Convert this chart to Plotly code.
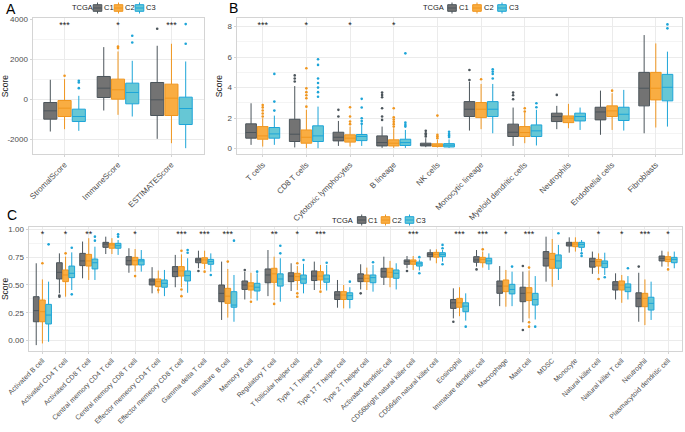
import plotly.graph_objects as go

# ---------------- data ----------------
GROUPS = ["C1", "C2", "C3"]

A_cats = ["StromalScore", "ImmuneScore", "ESTIMATEScore"]
A_sig = ["***", "*", "***"]
# (lower whisker, q1, median, q3, upper whisker)
A_C1 = [(-1617, -1000, -583, -167, 967), (-567, 83, 550, 1133, 2600), (-1983, -817, -33, 833, 2667)]
A_C2 = [(-1500, -867, -450, -67, 1000), (-783, 0, 467, 1000, 2383), (-2200, -817, 50, 750, 2767)]
A_C3 = [(-1583, -1117, -867, -500, 167), (-867, -233, 333, 800, 1917), (-2450, -1267, -467, 100, 1883)]
A_C1_out = [[], [], [3517]]
A_C2_out = [[1167], [2633, 2550], []]
A_C3_out = [[917, 833, 550], [3167, 2833], [3750, 2767]]

B_cats = ["T cells", "CD8 T cells", "Cytotoxic lymphocytes", "B lineage", "NK cells",
          "Monocytic lineage", "Myeloid dendritic cells", "Neutrophils", "Endothelial cells", "Fibroblasts"]
B_sig = ["***", "*", "*", "*", "", "", "", "", "", ""]
B_C1 = [(0.24, 0.68, 1.05, 1.62, 2.97), (0.07, 0.46, 0.94, 1.92, 4.1), (0.17, 0.5, 0.74, 1.07, 1.81),
        (0.04, 0.17, 0.39, 0.83, 1.44), (0.09, 0.17, 0.24, 0.35, 0.68), (1.18, 2.1, 2.58, 3.08, 4.39),
        (0.17, 0.79, 1.07, 1.6, 2.69), (1.27, 1.77, 2.1, 2.32, 2.8), (0.9, 1.88, 2.4, 2.71, 3.8),
        (1.0, 2.8, 3.96, 5.0, 7.45)]
B_C2 = [(0.13, 0.61, 0.83, 1.44, 1.99), (0.02, 0.35, 0.74, 1.22, 2.54), (0.13, 0.42, 0.68, 0.9, 1.44),
        (0.04, 0.17, 0.35, 0.57, 1.33), (0.07, 0.13, 0.22, 0.31, 0.57), (1.27, 2.03, 2.58, 3.02, 4.24),
        (0.35, 0.79, 1.05, 1.44, 2.36), (1.33, 1.7, 1.99, 2.14, 2.93), (1.22, 2.1, 2.47, 2.8, 3.63),
        (1.38, 3.19, 3.96, 5.0, 6.9)]
B_C3 = [(0.24, 0.68, 0.96, 1.38, 2.16), (0.02, 0.46, 0.83, 1.49, 2.75), (0.17, 0.52, 0.79, 0.92, 1.55),
        (0.04, 0.2, 0.39, 0.61, 1.22), (0.04, 0.1, 0.22, 0.32, 0.6), (1.0, 2.1, 2.58, 3.08, 4.24),
        (0.2, 0.79, 1.16, 1.55, 2.54), (1.22, 1.81, 2.1, 2.32, 2.69), (1.18, 1.84, 2.25, 2.71, 3.85),
        (1.44, 3.13, 4.02, 4.87, 6.36)]
B_C1_out = [[], [4.4, 4.6, 4.8], [2.1, 2.54], [1.88, 2.1, 2.64, 3.37, 3.52, 3.67], [0.79, 0.9, 1.0, 1.16],
            [4.5, 5.16], [3.23, 3.5, 3.67], [3.52], [], []]
B_C2_out = [[2.1, 2.3, 2.5, 2.7, 2.86], [2.75, 3.3, 3.5, 3.7, 3.95, 5.27], [1.6, 1.77, 2.1, 2.71],
            [1.44, 1.6, 1.75, 1.9, 2.05, 2.64], [0.68, 0.8, 0.9, 2.16], [4.55], [2.43, 2.64], [], [3.8], []]
B_C3_out = [[2.49, 3.08, 4.9], [3.4, 3.7, 4.0, 4.3, 4.6, 5.49, 5.86], [1.62, 1.8, 1.99, 2.69, 3.26],
            [1.44, 1.55, 1.7, 6.25], [0.75, 0.85, 0.95, 1.1], [4.6, 4.9, 5.05, 5.2], [2.71, 2.97], [], [],
            [7.89, 8.15]]

C_cats = ["Activated B cell", "Activated CD4 T cell", "Activated CD8 T cell", "Central memory CD4 T cell",
          "Central memory CD8 T cell", "Effector memeory CD4 T cell", "Effector memeory CD8 T cell",
          "Gamma delta T cell", "Immature  B cell", "Memory B cell", "Regulatory T cell",
          "T follicular helper cell", "Type 1 T helper cell", "Type 17 T helper cell", "Type 2 T helper cell",
          "Activated dendritic cell", "CD56bright natural killer cell", "CD56dim natural killer cell",
          "Eosinophil", "Immature dendritic cell", "Macrophage", "Mast cell", "MDSC", "Monocyte",
          "Natural killer cell", "Natural killer T cell", "Neutrophil", "Plasmacytoid dendritic cell"]
C_sig = ["*", "*", "**", "", "*", "", "***", "***", "***", "", "**", "*", "***", "", "", "", "***", "",
         "***", "***", "*", "***", "", "", "*", "*", "***", "*"]
C_C1 = [(-0.04, 0.17, 0.27, 0.395, 0.695), (0.425, 0.554, 0.614, 0.70, 0.784), (0.56, 0.674, 0.716, 0.784, 0.89),
        (0.778, 0.838, 0.868, 0.883, 0.934), (0.61, 0.68, 0.718, 0.754, 0.83), (0.425, 0.5, 0.536, 0.554, 0.66),
        (0.48, 0.575, 0.62, 0.665, 0.77), (0.65, 0.7, 0.725, 0.74, 0.808), (0.186, 0.35, 0.425, 0.5, 0.71),
        (0.37, 0.46, 0.5, 0.536, 0.62), (0.4, 0.52, 0.59, 0.644, 0.814), (0.446, 0.53, 0.58, 0.61, 0.695),
        (0.455, 0.54, 0.58, 0.626, 0.71), (0.296, 0.37, 0.41, 0.44, 0.545), (0.46, 0.53, 0.56, 0.6, 0.686),
        (0.5, 0.57, 0.62, 0.65, 0.754), (0.65, 0.686, 0.71, 0.725, 0.76), (0.72, 0.754, 0.775, 0.79, 0.82),
        (0.2, 0.29, 0.34, 0.37, 0.47), (0.665, 0.704, 0.725, 0.754, 0.814), (0.31, 0.425, 0.49, 0.536, 0.67),
        (0.165, 0.35, 0.425, 0.48, 0.62), (0.53, 0.67, 0.74, 0.8, 0.934), (0.79, 0.85, 0.868, 0.883, 0.928),
        (0.6, 0.66, 0.71, 0.74, 0.8), (0.37, 0.455, 0.5, 0.53, 0.605), (0.17, 0.305, 0.38, 0.43, 0.61),
        (0.665, 0.716, 0.74, 0.76, 0.808)]
C_C2 = [(-0.025, 0.17, 0.26, 0.365, 0.55), (0.395, 0.53, 0.59, 0.635, 0.754), (0.545, 0.67, 0.716, 0.775, 0.92),
        (0.778, 0.83, 0.86, 0.874, 0.92), (0.62, 0.68, 0.718, 0.748, 0.823), (0.425, 0.485, 0.53, 0.554, 0.63),
        (0.48, 0.58, 0.626, 0.665, 0.775), (0.644, 0.695, 0.725, 0.745, 0.808), (0.207, 0.335, 0.4, 0.47, 0.644),
        (0.377, 0.455, 0.49, 0.52, 0.61), (0.365, 0.524, 0.6, 0.65, 0.754), (0.455, 0.54, 0.575, 0.605, 0.67),
        (0.46, 0.545, 0.58, 0.62, 0.68), (0.29, 0.37, 0.41, 0.44, 0.5), (0.455, 0.53, 0.56, 0.59, 0.656),
        (0.48, 0.57, 0.614, 0.65, 0.716), (0.635, 0.686, 0.71, 0.725, 0.76), (0.695, 0.75, 0.775, 0.793, 0.82),
        (0.22, 0.3, 0.34, 0.38, 0.48), (0.656, 0.7, 0.73, 0.748, 0.8), (0.305, 0.44, 0.49, 0.545, 0.635),
        (0.2, 0.36, 0.43, 0.476, 0.63), (0.485, 0.65, 0.73, 0.784, 0.913), (0.8, 0.844, 0.868, 0.883, 0.928),
        (0.6, 0.67, 0.71, 0.73, 0.784), (0.34, 0.455, 0.5, 0.536, 0.59), (0.14, 0.305, 0.38, 0.425, 0.55),
        (0.665, 0.71, 0.73, 0.754, 0.8)]
C_C3 = [(-0.01, 0.15, 0.23, 0.326, 0.53), (0.455, 0.566, 0.605, 0.67, 0.793), (0.545, 0.644, 0.7, 0.733, 0.844),
        (0.77, 0.83, 0.853, 0.874, 0.904), (0.62, 0.68, 0.716, 0.73, 0.814), (0.4, 0.48, 0.515, 0.545, 0.635),
        (0.43, 0.536, 0.584, 0.626, 0.74), (0.62, 0.686, 0.71, 0.73, 0.784), (0.17, 0.3, 0.32, 0.44, 0.59),
        (0.36, 0.446, 0.48, 0.515, 0.605), (0.35, 0.49, 0.554, 0.6, 0.74), (0.425, 0.515, 0.554, 0.59, 0.69),
        (0.45, 0.524, 0.554, 0.59, 0.68), (0.29, 0.37, 0.404, 0.43, 0.48), (0.44, 0.52, 0.566, 0.59, 0.68),
        (0.46, 0.56, 0.605, 0.635, 0.695), (0.63, 0.67, 0.69, 0.706, 0.73), (0.71, 0.754, 0.775, 0.79, 0.814),
        (0.18, 0.26, 0.31, 0.34, 0.425), (0.635, 0.69, 0.716, 0.74, 0.784), (0.31, 0.42, 0.46, 0.506, 0.62),
        (0.19, 0.32, 0.37, 0.425, 0.58), (0.545, 0.65, 0.716, 0.77, 0.86), (0.8, 0.838, 0.865, 0.883, 0.904),
        (0.59, 0.656, 0.695, 0.716, 0.79), (0.37, 0.44, 0.48, 0.51, 0.58), (0.186, 0.275, 0.335, 0.39, 0.53),
        (0.65, 0.7, 0.73, 0.748, 0.8)]
C_C1_out = [[], [0.395, 0.405], [], [], [], [], [], [0.626], [], [0.635], [], [], [], [], [0.425], [], [0.626],
            [], [0.17], [0.64], [], [0.096, 0.67], [], [], [], [], [0.665], []]
C_C2_out = [[0.695], [0.784], [], [], [0.58], [0.455], [0.4, 0.46, 0.808], [0.62], [0.71], [0.35], [0.33],
            [0.395, 0.425, 0.695], [0.44], [], [], [], [], [], [], [0.82], [], [0.126, 0.165, 0.656], [], [],
            [0.554], [], [], [0.64]]
C_C3_out = [[0.865], [0.416, 0.835], [0.898, 0.934], [0.934, 0.955], [], [], [0.79, 0.814], [0.59], [0.898],
            [0.62], [0.784, 0.853], [0.725], [0.7], [0.53], [0.704], [], [0.605, 0.75], [0.686, 0.83, 0.86],
            [0.126], [], [0.665], [0.126], [0.964], [0.76, 0.784], [0.57], [0.65], [], []]

LEGEND_TITLE = "TCGA"

# ---------------- style ----------------
LINE = {"C1": "#4c555b", "C2": "#f0961f", "C3": "#1da5d8"}
FILL = {"C1": "#737373", "C2": "#f9ad42", "C3": "#66c7d5"}
FONT = "Liberation Sans, Arial, sans-serif"
TXT = "#4d4d4d"
W, H = 685, 432


def px_x(v):
    return v / W


def px_y(v):
    return 1 - v / H


fig = go.Figure()

panels = [
    ("A", "x", "y", A_cats, [A_C1, A_C2, A_C3], [A_C1_out, A_C2_out, A_C3_out], A_sig, 3680),
    ("B", "x2", "y2", B_cats, [B_C1, B_C2, B_C3], [B_C1_out, B_C2_out, B_C3_out], B_sig, 8.065),
    ("C", "x3", "y3", C_cats, [C_C1, C_C2, C_C3], [C_C1_out, C_C2_out, C_C3_out], C_sig, 0.952),
]

for pid, xa, ya, cats, stats_list, outs_list, sig, sig_y in panels:
    for g, stats, outs in zip(GROUPS, stats_list, outs_list):
        fig.add_trace(go.Box(
            x=cats, y=[o if o else [None] for o in outs],
            lowerfence=[s[0] for s in stats], q1=[s[1] for s in stats], median=[s[2] for s in stats],
            q3=[s[3] for s in stats], upperfence=[s[4] for s in stats],
            boxpoints="all", jitter=0, pointpos=0,
            name=g, showlegend=False, xaxis=xa, yaxis=ya,
            alignmentgroup=pid, offsetgroup=g,
            line=dict(color=LINE[g], width=1), fillcolor=FILL[g],
            marker=dict(color=LINE[g], size=2.6, line=dict(width=0)),
            whiskerwidth=0, hoverinfo="skip",
        ))
    fig.add_trace(go.Scatter(
        x=cats, y=[sig_y] * len(cats), text=sig, mode="text",
        textfont=dict(size=9, color="#222222", family=FONT),
        xaxis=xa, yaxis=ya, showlegend=False, hoverinfo="skip",
    ))


def xax(domain, anchor, rng, size=8):
    return dict(domain=domain, anchor=anchor, type="category", range=rng, automargin=False,
                showgrid=True, gridcolor="#ebebeb", gridwidth=1,
                showline=True, mirror=True, linecolor="#d4d4d4", linewidth=1,
                ticks="outside", ticklen=2, tickcolor="#d4d4d4",
                tickangle=-45, tickfont=dict(size=size, color=TXT, family=FONT), zeroline=False)


def yax(domain, anchor, rng, tickvals, ticktext, minor_dtick):
    return dict(domain=domain, anchor=anchor, range=rng, tickvals=tickvals, ticktext=ticktext,
                automargin=False,
                showgrid=True, gridcolor="#ebebeb", gridwidth=1,
                minor=dict(showgrid=True, gridcolor="#f4f4f4", dtick=minor_dtick, tick0=0),
                showline=True, mirror=True, linecolor="#d4d4d4", linewidth=1,
                ticks="outside", ticklen=2, tickcolor="#d4d4d4",
                tickfont=dict(size=8, color=TXT, family=FONT), zeroline=False,
                title=dict(text="Score", font=dict(size=8.5, color="#222222", family=FONT), standoff=3))


def dx(a, b):
    return [a / W, b / W]


def dy(top, bottom):
    return [1 - bottom / H, 1 - top / H]


annotations = []
shapes = []

# panel letters
for letter, lx, ly in [("A", 11, 8.5), ("B", 233, 8), ("C", 12, 215)]:
    annotations.append(dict(text=letter, x=px_x(lx), y=px_y(ly), xref="paper", yref="paper",
                            xanchor="center", yanchor="middle", showarrow=False,
                            font=dict(size=14, color="#000000", family=FONT)))

# compact legends (title + box keys), one per panel
legend_specs = [(70, 8, [97.5, 118.5, 139.5]), (421, 8, [452, 477, 502]), (330, 220, [361.7, 385.5, 409.5])]
for tx, cy, centers in legend_specs:
    annotations.append(dict(text=LEGEND_TITLE, x=px_x(tx), y=px_y(cy), xref="paper", yref="paper",
                            xanchor="left", yanchor="middle", showarrow=False,
                            font=dict(size=7.5, color="#222222", family=FONT)))
    for g, cx in zip(GROUPS, centers):
        shapes.append(dict(type="line", xref="paper", yref="paper",
                           x0=px_x(cx), x1=px_x(cx), y0=px_y(cy - 5.5), y1=px_y(cy + 5.5),
                           line=dict(color=LINE[g], width=1)))
        shapes.append(dict(type="rect", xref="paper", yref="paper",
                           x0=px_x(cx - 4.3), x1=px_x(cx + 4.3), y0=px_y(cy - 3.3), y1=px_y(cy + 3.3),
                           fillcolor=FILL[g], line=dict(color=LINE[g], width=1)))
        shapes.append(dict(type="line", xref="paper", yref="paper",
                           x0=px_x(cx - 4.3), x1=px_x(cx + 4.3), y0=px_y(cy), y1=px_y(cy),
                           line=dict(color=LINE[g], width=1)))
        annotations.append(dict(text=g, x=px_x(cx + 4.6), y=px_y(cy), xref="paper", yref="paper",
                                xanchor="left", yanchor="middle", showarrow=False,
                                font=dict(size=7.5, color="#222222", family=FONT)))

fig.update_layout(
    template="none",
    width=W, height=H, autosize=False,
    margin=dict(l=0, r=0, t=0, b=0, pad=0),
    paper_bgcolor="white", plot_bgcolor="white",
    font=dict(family=FONT, color=TXT),
    boxmode="group", boxgap=0.2, boxgroupgap=0.08,
    showlegend=False,
    hovermode=False,
    xaxis=xax(dx(32.5, 203.5), "y", [-0.6, 2.6]),
    yaxis=yax(dy(18.3, 154), "x", [-2740, 4040], [-2000, 0, 2000, 4000], ["-2000", "0", "2000", "4000"], 1000),
    xaxis2=xax(dx(236.5, 682), "y2", [-0.6, 9.6]),
    yaxis2=yax(dy(18.3, 154), "x2", [-0.36, 8.55], [0, 2, 4, 6, 8], ["0", "2", "4", "6", "8"], 1),
    xaxis3=xax(dx(28.5, 682), "y3", [-0.6, 27.6], size=7),
    yaxis3=yax(dy(227.3, 350.7), "x3", [-0.09, 1.018], [0, 0.25, 0.5, 0.75, 1.0],
               ["0.00", "0.25", "0.50", "0.75", "1.00"], 0.125),
    annotations=annotations,
    shapes=shapes,
)

fig.write_html("out.html", config={"displayModeBar": False, "staticPlot": True},
               post_script="document.body.style.margin='0';document.body.style.padding='0';")
